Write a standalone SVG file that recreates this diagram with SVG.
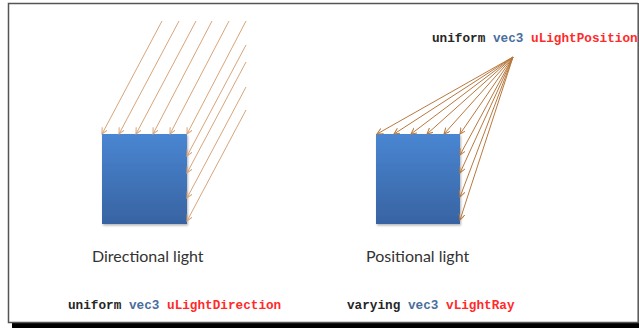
<svg xmlns="http://www.w3.org/2000/svg" width="639" height="328" viewBox="0 0 639 328">
<style>
.frame{fill:none;stroke:#555;stroke-width:1.5}
.sq{fill:url(#blue)}
.dir line{stroke:#d8a57a;stroke-width:1;marker-end:url(#ah1)}
.pos line{stroke:#b8783e;stroke-width:1;marker-end:url(#ah2)}
.lbl{font-family:Lato,"Liberation Sans",Arial,sans-serif;font-size:16px;fill:#333}
.code{font-family:"Liberation Mono","Courier New",monospace;font-weight:bold;font-size:12.7px}
.k{fill:#262626}.t{fill:#4a6f9c}.v{fill:#ff2a2a}
</style>
<defs>
<linearGradient id="blue" x1="0" y1="0" x2="0" y2="1">
<stop offset="0" stop-color="#4986d2"/>
<stop offset="1" stop-color="#3863a2"/>
</linearGradient>
<filter id="sh" x="-10%" y="-10%" width="130%" height="130%">
<feDropShadow dx="1" dy="1.5" stdDeviation="1" flood-color="#000" flood-opacity="0.3"/>
</filter>
<marker id="ah1" markerUnits="userSpaceOnUse" markerWidth="8" markerHeight="8" refX="6" refY="3" orient="auto">
<path d="M0,0 L6,3 L0,6" fill="none" stroke="#d8a57a" stroke-width="1"/>
</marker>
<marker id="ah2" markerUnits="userSpaceOnUse" markerWidth="8" markerHeight="8" refX="6" refY="3" orient="auto">
<path d="M0,0 L6,3 L0,6" fill="none" stroke="#b8783e" stroke-width="1"/>
</marker>
</defs>
<rect width="639" height="328" fill="#fff"/>
<g id="frame">
<rect x="12" y="322" width="627" height="6" fill="#000"/>
<path class="frame" d="M638,3.5 L8.5,3.5 L8.5,322.5 L639,322.5"/>
<line x1="638.2" y1="3" x2="638.2" y2="322" stroke="#555" stroke-width="1.5"/>
</g>
<g id="directional-square"><rect class="sq" x="102" y="134" width="85" height="90" filter="url(#sh)"/></g>
<g id="positional-square"><rect class="sq" x="376" y="134" width="84" height="90" filter="url(#sh)"/></g>
<g id="connectors">
<g class="dir">
<line x1="162" y1="21" x2="102" y2="134"/>
<line x1="179" y1="21" x2="119" y2="134"/>
<line x1="196" y1="21" x2="136" y2="134"/>
<line x1="212" y1="21" x2="153" y2="134"/>
<line x1="229" y1="21" x2="170" y2="134"/>
<line x1="246" y1="21" x2="187" y2="134"/>
<line x1="246" y1="45" x2="187" y2="156"/>
<line x1="246" y1="62" x2="187" y2="173"/>
<line x1="246" y1="87" x2="187" y2="198"/>
<line x1="246" y1="110" x2="187" y2="221"/>
</g>
<g class="pos">
<line x1="513" y1="57" x2="377" y2="134"/>
<line x1="513" y1="57" x2="394" y2="134"/>
<line x1="513" y1="57" x2="411" y2="134"/>
<line x1="513" y1="57" x2="427" y2="134"/>
<line x1="513" y1="57" x2="444" y2="134"/>
<line x1="513" y1="57" x2="460" y2="134"/>
<line x1="513" y1="57" x2="460" y2="155"/>
<line x1="513" y1="57" x2="460" y2="173"/>
<line x1="513" y1="57" x2="460" y2="197"/>
<line x1="513" y1="57" x2="460" y2="220"/>
</g>
</g>
<g id="labels">
<text class="lbl" x="92" y="262">Directional light</text>
<text class="lbl" x="366" y="262">Positional light</text>
<text class="code" x="68" y="309"><tspan class="k">uniform</tspan> <tspan class="t">vec3</tspan> <tspan class="v">uLightDirection</tspan></text>
<text class="code" x="347" y="309"><tspan class="k">varying</tspan> <tspan class="t">vec3</tspan> <tspan class="v">vLightRay</tspan></text>
<text class="code" x="432" y="42"><tspan class="k">uniform</tspan> <tspan class="t">vec3</tspan> <tspan class="v">uLightPosition</tspan></text>
</g>
</svg>
